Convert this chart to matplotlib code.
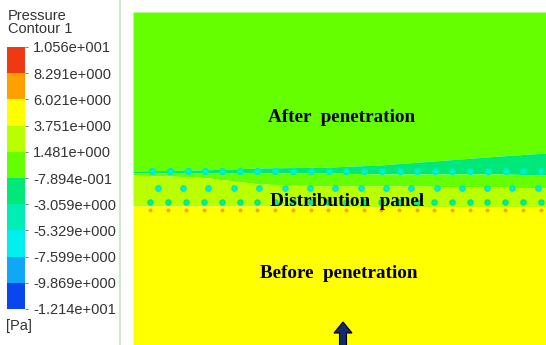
import matplotlib
matplotlib.use("Agg")
import matplotlib.pyplot as plt
from matplotlib.colors import ListedColormap, BoundaryNorm
from matplotlib.colorbar import ColorbarBase
from matplotlib.patches import Polygon

# Contour levels (Pa) and band colours, low to high
levels = [-12.14, -9.869, -7.599, -5.329, -3.059, -0.7894, 1.481, 3.751, 6.021, 8.291, 10.56]
tick_labels = ["-1.214e+001", "-9.869e+000", "-7.599e+000", "-5.329e+000", "-3.059e+000",
               "-7.894e-001", "1.481e+000", "3.751e+000", "6.021e+000", "8.291e+000", "1.056e+001"]
band_colors = ["#0a46f0", "#10a8f5", "#00f0f0", "#00eeb4", "#00e878",
               "#66ff00", "#b9ff00", "#ffff00", "#ffa000", "#ee3a12"]

# Layer boundaries across the distribution panel (x, y in panel pixels)
x_nodes = [133, 200, 260, 330, 380, 420, 460, 500, 546]
streak_top = [171, 170, 168, 167, 165, 162, 159, 156, 153]
streak_bot = [173, 173, 173, 173, 174, 174, 174, 174, 175]
green_bot = [175, 177, 184, 186, 186, 186, 187, 187, 188]
yellow_top = [206, 206, 206, 206, 207, 207, 207, 207, 207]

# Layer pressures (Pa)
p_after = 0.3
p_streak = -2.0
p_panel_upper = 0.6
p_panel_lower = 2.6
p_before = 4.9

# Hole jets in the panel: rows of x positions, row y, pressures
row1_x = [152, 170, 188, 205, 222, 240, 257, 275, 293, 311, 329, 346, 364, 382, 400,
          417, 435, 452, 470, 488, 506, 523, 541]
row2_x = [158, 183, 208, 234, 259, 285, 310, 335, 361, 386, 411, 437, 462, 487, 512, 538]
row3_x = [150, 168, 186, 204, 222, 240, 257, 275, 293, 311, 328, 346, 364, 381, 399,
          417, 434, 452, 470, 487, 505, 523, 541]
row1_y, row2_y, row3_y, stag_y = 171, 188, 202, 210
p_halo = -4.2
p_core = -6.4
p_halo3 = -2.0
p_stag = 7.0

cmap = ListedColormap(band_colors)
norm = BoundaryNorm(levels, cmap.N)


def col(p):
    return cmap(norm(p))


fig = plt.figure(figsize=(5.46, 3.45), dpi=100)
fig.patch.set_facecolor("white")
W, H = 546, 345

# ---- contour panel ----
ax = fig.add_axes([133 / W, 0, (W - 133) / W, (H - 12) / H])
ax.set_xlim(133, 546)
ax.set_ylim(345, 12)
ax.axis("off")

ax.fill_between(x_nodes, 12, streak_top, color=col(p_after), lw=0)
ax.fill_between(x_nodes, streak_top, streak_bot, color=col(p_streak), lw=0)
ax.fill_between(x_nodes, streak_bot, green_bot, color=col(p_panel_upper), lw=0)
ax.fill_between(x_nodes, green_bot, yellow_top, color=col(p_panel_lower), lw=0)
ax.fill_between(x_nodes, yellow_top, 345, color=col(p_before), lw=0)

ax.scatter(row1_x, [row1_y] * len(row1_x), s=28, color=col(p_halo), lw=0, zorder=3)
ax.scatter(row1_x, [row1_y] * len(row1_x), s=4, color=col(p_core), lw=0, zorder=4)
ax.scatter(row2_x, [row2_y] * len(row2_x), s=24, color=col(p_halo), lw=0, zorder=3)
ax.scatter(row2_x, [row2_y] * len(row2_x), s=4, color=col(p_core), lw=0, zorder=4)
ax.scatter(row3_x, [row3_y] * len(row3_x), s=22, color=col(p_halo3), lw=0, zorder=3)
ax.scatter(row3_x, [row3_y] * len(row3_x), s=4, color=col(p_halo), lw=0, zorder=4)
ax.scatter(row3_x, [stag_y] * len(row3_x), s=8, color=col(p_stag), lw=0, zorder=3)

serif = dict(family="Liberation Serif", weight="bold", color="black")
ax.text(342, 117, "After  penetration", ha="center", va="center", fontsize=13.8, zorder=6, **serif)
ax.text(347, 202, "Distribution  panel", ha="center", va="center", fontsize=13.8, zorder=6, **serif)
ax.text(339, 273, "Before  penetration", ha="center", va="center", fontsize=13.8, zorder=6, **serif)

# inflow arrow
arrow = Polygon([(343, 322), (352, 333), (346.5, 333), (346.5, 346),
                 (339.5, 346), (339.5, 333), (334, 333)],
                closed=True, facecolor="#142a6e", edgecolor="black", lw=0.8, zorder=7)
ax.add_patch(arrow)

# separator line
fig.add_artist(plt.Line2D([120 / W, 120 / W], [0, 1], color="#c8ecc8", lw=1.5))

# ---- legend colour bar ----
bar_top, bar_bot = 47, 309
cax = fig.add_axes([7 / W, (H - bar_bot) / H, 18 / W, (bar_bot - bar_top) / H])
cb = ColorbarBase(cax, cmap=cmap, norm=norm, boundaries=levels, spacing="uniform",
                  orientation="vertical")
cb.outline.set_visible(False)
cb.set_ticks(levels)
cb.set_ticklabels(tick_labels)
cax.tick_params(axis="y", length=2, width=0.6, color="#666666", pad=4,
                labelsize=10.5, labelcolor="#333333")
for t in cax.get_yticklabels():
    t.set_family("Liberation Sans")

sans = dict(family="Liberation Sans", color="#333333")
fig.text(8 / W, 1 - 16 / H, "Pressure", ha="left", va="center", fontsize=10.5, **sans)
fig.text(8 / W, 1 - 29 / H, "Contour 1", ha="left", va="center", fontsize=10.5, **sans)
fig.text(6 / W, 1 - 326 / H, "[Pa]", ha="left", va="center", fontsize=10.5, **sans)

fig.savefig("out.png", dpi=100)
